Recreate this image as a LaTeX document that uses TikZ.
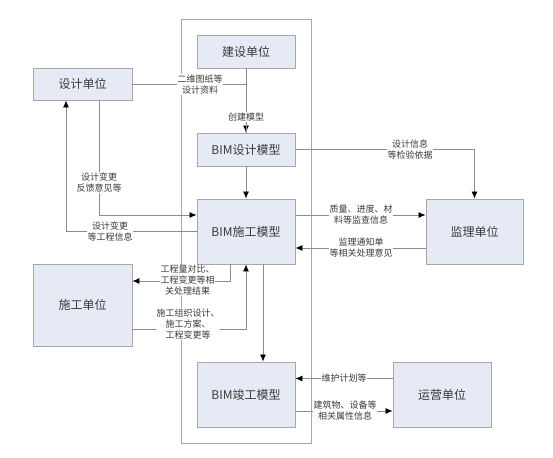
\documentclass[tikz,border=0pt]{standalone}
\usepackage{fontspec}
\setmainfont{Noto Sans CJK SC}
\usetikzlibrary{arrows.meta}
\definecolor{boxfill}{HTML}{E5EAF4}
\definecolor{boxline}{HTML}{A8A8A8}
\definecolor{conn}{HTML}{8C8C8C}
\definecolor{txt}{HTML}{3A3A3A}
\tikzset{
  unit/.style={draw=boxline, fill=boxfill, line width=0.9pt, text=txt,
    font=\fontsize{12}{14}\selectfont, inner sep=0pt, anchor=center},
  arr/.style={draw=conn, line width=0.8pt, -{Latex[length=7pt,width=6pt,color=black]}},
  lbl/.style={fill=white, inner sep=0.8pt, text=txt, align=center,
    font=\fontsize{9}{11}\selectfont},
}
\begin{document}
\begin{tikzpicture}[x=1pt,y=-1pt]
\useasboundingbox (0,0) rectangle (553,457);
% frame
\draw[draw=boxline, line width=0.8pt] (181,19) rectangle (311,443);
% units
\node[unit, minimum width=98pt, minimum height=33pt] (js) at (246,51.5) {建设单位};
\node[unit, minimum width=99pt, minimum height=32pt] (sj) at (82.5,84) {设计单位};
\node[unit, minimum width=98pt, minimum height=33pt] (sm) at (246,149.5) {BIM设计模型};
\node[unit, minimum width=98pt, minimum height=65pt] (sg) at (246,231.5) {BIM施工模型};
\node[unit, minimum width=97pt, minimum height=65pt] (jl) at (474.5,231.5) {监理单位};
\node[unit, minimum width=99pt, minimum height=82pt] (sd) at (82.5,305) {施工单位};
\node[unit, minimum width=98pt, minimum height=65pt] (jg) at (246,394.5) {BIM竣工模型};
\node[unit, minimum width=98pt, minimum height=65pt] (yy) at (442,394.5) {运营单位};
% connectors
\draw[arr] (js.south) -- (sm.north);
\draw[draw=conn, line width=0.8pt] (sj.east) -| (sm.north);
\draw[arr] (sm.south) -- (sg.north);
\draw[arr] ([xshift=16.5pt]sj.south) |- ([yshift=16.5pt]sg.west);
\draw[arr] (sg.west) -| ([xshift=-16.5pt]sj.south);
\draw[arr] (sm.east) -| (jl.north);
\draw[arr] ([yshift=16.5pt]sg.east) -- ([yshift=16.5pt]jl.west);
\draw[arr] ([yshift=-16.5pt]jl.west) -- ([yshift=-16.5pt]sg.east);
\draw[arr] ([xshift=-16pt]sg.south) |- ([yshift=24pt]sd.east);
\draw[arr] ([yshift=-24pt]sd.east) -| (sg.south);
\draw[arr] ([xshift=17pt]sg.south) -- ([xshift=17pt]jg.north);
\draw[arr] ([yshift=16pt]yy.west) -- ([yshift=16pt]jg.east);
\draw[arr] ([yshift=-16.5pt]jg.east) -- ([yshift=-16.5pt]yy.west);
% labels
\node[lbl] (l1) at (200,84.5) {二维图纸等\\设计资料};
\node[lbl] (l2) at (246,117) {创建模型};
\node[lbl] (l3) at (99,182.5) {设计变更\\反馈意见等};
\node[lbl] (l4) at (110,231.5) {设计变更\\等工程信息};
\node[lbl] (l5) at (410,149.5) {设计信息\\等检验依据};
\node[lbl] (l6) at (361,215) {质量、进度、材\\料等监查信息};
\node[lbl] (l7) at (361,248) {监理通知单\\等相关处理意见};
\node[lbl] (l8) at (187.5,280.5) {工程量对比、\\工程变更等相\\关处理结果};
\node[lbl] (l9) at (188,324) {施工组织设计、\\施工方案、\\工程变更等};
\node[lbl] (l10) at (344,378.5) {维护计划等};
\node[lbl] (l11) at (345,411) {建筑物、设备等\\相关属性信息};
\end{tikzpicture}
\end{document}
